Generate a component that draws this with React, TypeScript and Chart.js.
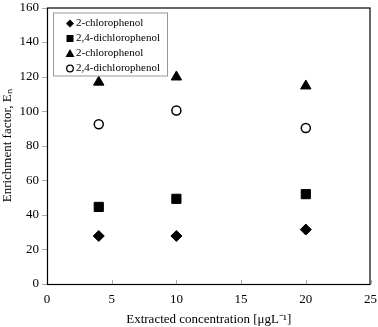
import React, { useEffect, useRef } from "react";
import { Chart, registerables } from "chart.js";

Chart.register(...registerables);

const xValues = [4, 10, 20];
const cpSeriesA = [27.8, 27.8, 31.5];
const dcpSeriesA = [44.6, 49.3, 52];
const cpSeriesB = [116.8, 119.8, 114.6];
const dcpSeriesB = [92.4, 100.4, 90.3];
const legendLabels = ["2-chlorophenol", "2,4-dichlorophenol", "2-chlorophenol", "2,4-dichlorophenol"];
const xTicks = [0, 5, 10, 15, 20, 25];
const yTicks = [0, 20, 40, 60, 80, 100, 120, 140, 160];

const FONT = "'Liberation Serif', 'Times New Roman', serif";

function drawMarker(ctx: CanvasRenderingContext2D, style: string, x: number, y: number) {
  ctx.beginPath();
  ctx.fillStyle = "#000";
  ctx.strokeStyle = "#000";
  ctx.lineWidth = 1;
  if (style === "rectRot") {
    const r = 4;
    ctx.moveTo(x, y - r);
    ctx.lineTo(x + r, y);
    ctx.lineTo(x, y + r);
    ctx.lineTo(x - r, y);
    ctx.closePath();
    ctx.fill();
  } else if (style === "rect") {
    ctx.rect(x - 3.5, y - 3.5, 7, 7);
    ctx.fill();
  } else if (style === "triangle") {
    ctx.moveTo(x, y - 4.5);
    ctx.lineTo(x + 4.5, y + 3.5);
    ctx.lineTo(x - 4.5, y + 3.5);
    ctx.closePath();
    ctx.fill();
  } else {
    ctx.fillStyle = "#fff";
    ctx.lineWidth = 1.3;
    ctx.arc(x, y, 3.3, 0, Math.PI * 2);
    ctx.fill();
    ctx.stroke();
  }
}

const frameAndLegend = {
  id: "frameAndLegend",
  afterDraw(chart: any) {
    const { ctx, chartArea, scales } = chart;
    ctx.save();
    ctx.strokeStyle = "#aaa";
    ctx.lineWidth = 1;
    xTicks.forEach((v) => {
      const px = Math.round(scales.x.getPixelForValue(v)) + 0.5;
      ctx.beginPath();
      ctx.moveTo(px, chartArea.bottom);
      ctx.lineTo(px, chartArea.bottom - 4);
      ctx.stroke();
    });
    yTicks.forEach((v) => {
      const py = Math.round(scales.y.getPixelForValue(v)) + 0.5;
      ctx.beginPath();
      ctx.moveTo(chartArea.left, py);
      ctx.lineTo(chartArea.left - 5, py);
      ctx.stroke();
    });
    ctx.strokeStyle = "#000";
    ctx.lineWidth = 1.2;
    ctx.strokeRect(chartArea.left + 0.5, chartArea.top + 0.5, chartArea.right - chartArea.left - 1, chartArea.bottom - chartArea.top);
    const bx = chartArea.left + 6;
    const by = chartArea.top + 5;
    const bw = 114;
    const bh = 63;
    ctx.fillStyle = "#fff";
    ctx.fillRect(bx, by, bw, bh);
    ctx.strokeStyle = "#999";
    ctx.lineWidth = 1;
    ctx.strokeRect(bx + 0.5, by + 0.5, bw, bh);
    ctx.font = `11px ${FONT}`;
    ctx.textBaseline = "middle";
    ctx.textAlign = "left";
    chart.data.datasets.forEach((ds: any, i: number) => {
      const cy = by + 11 + i * 15;
      const mx = bx + 17;
      drawMarker(ctx, ds.pointStyle, mx, cy);
      ctx.fillStyle = "#000";
      ctx.fillText(legendLabels[i], mx + 6, cy);
    });
    ctx.restore();
  },
};

function mk(label: string, ys: number[], style: string, radius: number, fill: string, bw: number) {
  return {
    label,
    data: xValues.map((x, i) => ({ x, y: ys[i] })),
    pointStyle: style,
    pointRadius: radius,
    pointBackgroundColor: fill,
    pointBorderColor: "#000",
    pointBorderWidth: bw,
    showLine: false,
  };
}

export default function App() {
  const ref = useRef<HTMLCanvasElement>(null);
  useEffect(() => {
    document.body.style.margin = "0";
    const chart = new Chart(ref.current!, {
      type: "scatter",
      data: {
        datasets: [
          mk(legendLabels[0], cpSeriesA, "rectRot", 5.5, "#000", 1),
          mk(legendLabels[1], dcpSeriesA, "rect", 6.5, "#000", 1),
          mk(legendLabels[2], cpSeriesB, "triangle", 6, "#000", 1),
          mk(legendLabels[3], dcpSeriesB, "circle", 4.5, "#fff", 1.5),
        ] as any,
      },
      options: {
        animation: false,
        responsive: false,
        layout: { padding: { top: 4, right: 6, left: 0, bottom: 0 } },
        plugins: { legend: { display: false }, tooltip: { enabled: false } },
        scales: {
          x: {
            type: "linear",
            min: 0,
            max: 25,
            afterBuildTicks: (s: any) => { s.ticks = xTicks.map((v) => ({ value: v })); },
            afterFit: (s: any) => { s.height = 43; s.paddingLeft = 0; s.paddingRight = 0; },
            grid: { display: false, drawTicks: false },
            border: { display: false },
            ticks: { color: "#000", font: { family: FONT, size: 13 }, padding: 8, maxRotation: 0 },
            title: { display: true, text: "Extracted concentration [μgL⁻¹]", color: "#000", font: { family: FONT, size: 13 }, padding: { top: 3, bottom: 0 } },
          },
          y: {
            type: "linear",
            min: 0,
            max: 160,
            afterBuildTicks: (s: any) => { s.ticks = yTicks.map((v) => ({ value: v })); },
            afterFit: (s: any) => { s.width = 47; s.paddingTop = 0; s.paddingBottom = 0; },
            grid: { display: false, drawTicks: false },
            border: { display: false },
            ticks: { color: "#000", font: { family: FONT, size: 13, lineHeight: 0.5 }, padding: 8 },
            title: { display: true, text: "Enrichment factor, Eₙ", color: "#000", font: { family: FONT, size: 13 }, padding: { top: 0, bottom: 2 } },
          },
        },
      },
      plugins: [frameAndLegend],
    } as any);
    return () => chart.destroy();
  }, []);
  return (
    <div style={{ width: 378, height: 327 }}>
      <canvas ref={ref} width={378} height={327} style={{ width: 378, height: 327, display: "block" }} />
    </div>
  );
}
